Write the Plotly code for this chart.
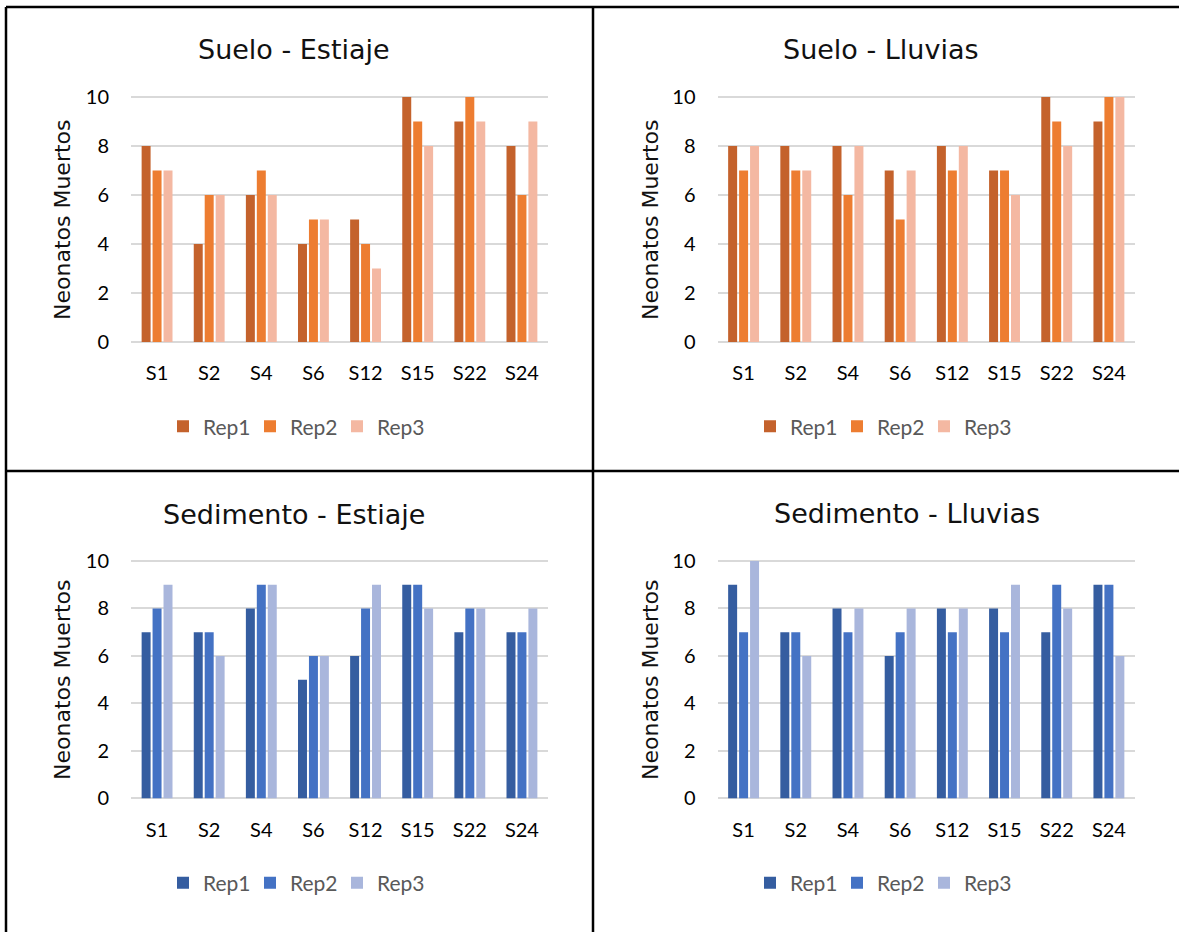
import plotly.graph_objects as go

W, H = 1179, 932

categories = ["S1", "S2", "S4", "S6", "S12", "S15", "S22", "S24"]
rep_names = ["Rep1", "Rep2", "Rep3"]

suelo_estiaje_rep1 = [8, 4, 6, 4, 5, 10, 9, 8]
suelo_estiaje_rep2 = [7, 6, 7, 5, 4, 9, 10, 6]
suelo_estiaje_rep3 = [7, 6, 6, 5, 3, 8, 9, 9]

suelo_lluvias_rep1 = [8, 8, 8, 7, 8, 7, 10, 9]
suelo_lluvias_rep2 = [7, 7, 6, 5, 7, 7, 9, 10]
suelo_lluvias_rep3 = [8, 7, 8, 7, 8, 6, 8, 10]

sed_estiaje_rep1 = [7, 7, 8, 5, 6, 9, 7, 7]
sed_estiaje_rep2 = [8, 7, 9, 6, 8, 9, 8, 7]
sed_estiaje_rep3 = [9, 6, 9, 6, 9, 8, 8, 8]

sed_lluvias_rep1 = [9, 7, 8, 6, 8, 8, 7, 9]
sed_lluvias_rep2 = [7, 7, 7, 7, 7, 7, 9, 9]
sed_lluvias_rep3 = [10, 6, 8, 8, 8, 9, 8, 6]

panel_titles = ["Suelo - Estiaje", "Suelo - Lluvias", "Sedimento - Estiaje", "Sedimento - Lluvias"]
y_title = "Neonatos Muertos"

orange = ["#C4622C", "#ED7D31", "#F4B8A2"]
blue = ["#355DA0", "#4472C4", "#A9B6DC"]

panels = [
    ([suelo_estiaje_rep1, suelo_estiaje_rep2, suelo_estiaje_rep3], orange),
    ([suelo_lluvias_rep1, suelo_lluvias_rep2, suelo_lluvias_rep3], orange),
    ([sed_estiaje_rep1, sed_estiaje_rep2, sed_estiaje_rep3], blue),
    ([sed_lluvias_rep1, sed_lluvias_rep2, sed_lluvias_rep3], blue),
]

def px_x(v):
    return v / W

def px_y(v):
    return 1 - v / H

# layout geometry (pixels)
x_doms = [(131, 548), (717.5, 1135), (131, 548), (717.5, 1135)]
y_doms = [(94.55, 344.45), (94.55, 344.45), (558.63, 800.67), (558.63, 800.67)]
title_pos = [(294, 50), (881, 50), (294, 514), (907, 513)]
ytitle_pos = [(62, 220), (650, 220), (62, 680), (650, 680)]
legend_pos = [(163, 426.7), (750, 426.7), (163, 883), (750, 883)]

fig = go.Figure()
tick_font = dict(family="Lato", size=20, color="#000000")

layout = dict(
    width=W, height=H,
    margin=dict(l=0, r=0, t=0, b=0, autoexpand=False),
    paper_bgcolor="white", plot_bgcolor="white",
    bargap=0.37, bargroupgap=0.18,
    barmode="group",
    annotations=[], shapes=[],
)

for i, (series, colors) in enumerate(panels):
    n = i + 1
    xa = "x" if n == 1 else f"x{n}"
    ya = "y" if n == 1 else f"y{n}"
    lg = "legend" if n == 1 else f"legend{n}"
    for r in range(3):
        fig.add_trace(go.Bar(
            x=categories, y=series[r], name=rep_names[r],
            marker=dict(color=colors[r], line=dict(width=0)),
            xaxis=xa, yaxis=ya, legend=lg,
        ))
    xk = "xaxis" if n == 1 else f"xaxis{n}"
    yk = "yaxis" if n == 1 else f"yaxis{n}"
    layout[xk] = dict(
        domain=[px_x(x_doms[i][0]), px_x(x_doms[i][1])],
        anchor=ya, showgrid=False, showline=False, zeroline=False,
        tickfont=tick_font, ticks="", ticklabelstandoff=15,
        categoryorder="array", categoryarray=categories,
    )
    layout[yk] = dict(
        domain=[px_y(y_doms[i][1]), px_y(y_doms[i][0])],
        anchor=xa, range=[-0.1, 10.1], tickvals=[0, 2, 4, 6, 8, 10],
        showgrid=True, gridcolor="#D9D9D9", gridwidth=2,
        zeroline=False, showline=False,
        tickfont=tick_font, ticks="", ticklabelstandoff=21,
    )
    layout[lg] = dict(
        orientation="h", x=px_x(legend_pos[i][0]), y=px_y(legend_pos[i][1]),
        xanchor="left", yanchor="middle",
        font=dict(family="Lato", size=21, color="#595959"),
        itemwidth=30, entrywidth=42, entrywidthmode="pixels",
        bgcolor="rgba(0,0,0,0)", traceorder="normal",
    )
    layout["annotations"].append(dict(
        text=panel_titles[i], xref="paper", yref="paper",
        x=px_x(title_pos[i][0]), y=px_y(title_pos[i][1]),
        xanchor="center", yanchor="middle", showarrow=False,
        font=dict(family="DejaVu Sans", size=27, color="#111111"),
    ))
    layout["annotations"].append(dict(
        text=y_title, xref="paper", yref="paper",
        x=px_x(ytitle_pos[i][0]), y=px_y(ytitle_pos[i][1]),
        xanchor="center", yanchor="middle", showarrow=False, textangle=-90,
        font=dict(family="DejaVu Sans", size=22, color="#111111"),
    ))

# frame lines
border = dict(color="#000000", width=2.5)
for (x0, y0, x1, y1) in [(6, 7, 1179, 7), (6, 7, 6, 932), (593, 7, 593, 932), (6, 471, 1179, 471)]:
    layout["shapes"].append(dict(
        type="line", xref="paper", yref="paper",
        x0=px_x(x0), y0=px_y(y0), x1=px_x(x1), y1=px_y(y1), line=border,
    ))

fig.update_layout(**layout)
fig.write_html(
    "out.html",
    config={"displayModeBar": False},
    post_script="document.body.style.margin='0';document.body.style.padding='0';",
)
